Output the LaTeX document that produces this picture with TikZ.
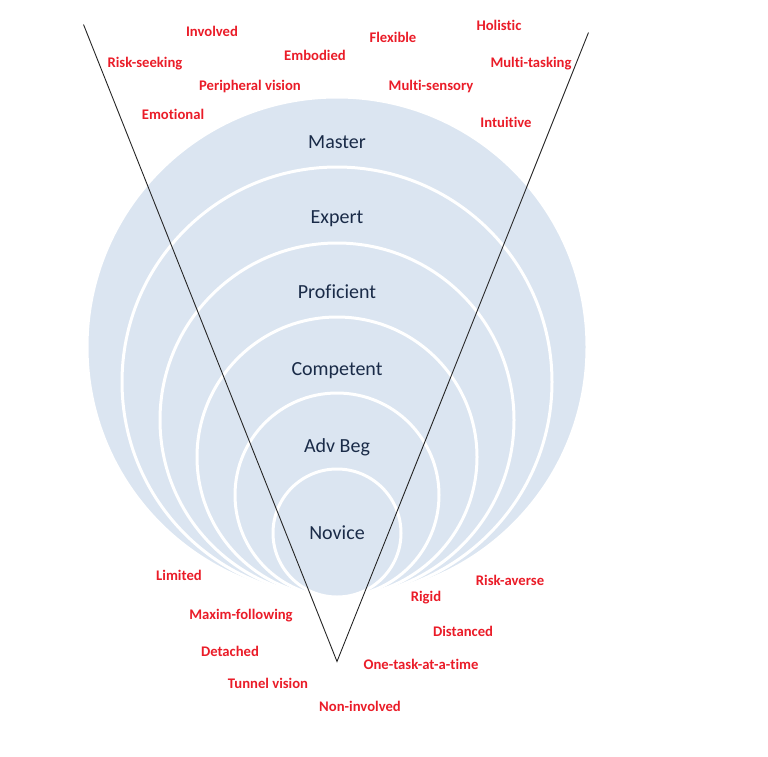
\documentclass[tikz,border=0pt]{standalone}
\usepackage{fontspec}
\setmainfont{Carlito}[Ligatures = {NoCommon, NoRare}]
\definecolor{ringblue}{RGB}{219,229,241}
\definecolor{levelnavy}{RGB}{26,43,72}
\definecolor{traitred}{RGB}{234,28,40}

\begin{document}
\begin{tikzpicture}[x = 1pt, y = -1pt,
		level/.style = {anchor = base, text = levelnavy, font = \fontsize{20}{24}\selectfont},
		trait/.style = {text = traitred, font = \fontsize{14.67}{17}\selectfont\bfseries}]
		\useasboundingbox (0,0) rectangle (768,756);
		% rings, all touching at the bottom
		\foreach \r in {250,215,177,140,102,64}
			\draw[white, line width = 3pt, fill = ringblue] (337,{597-\r}) circle (\r);
		\node[level] (master) at (337,148) {Master};
		\node[level] (expert) at (337,223) {Expert};
		\node[level] (proficient) at (337,298) {Proficient};
		\node[level] (competent) at (337,375) {Competent};
		\node[level] (advbeg) at (337,452) {Adv Beg};
		\node[level] (novice) at (337,539) {Novice};
		% the V
		\coordinate (tl) at (83.5,24.5);
		\coordinate (tr) at (588.5,32.5);
		\coordinate (tip) at (337,661.5);
		\draw[line width = 0.9pt, black!85] (tl) -- (tip) -- (tr);
		% expert traits
		\node[trait] (involved) at (212,31) {Involved};
		\node[trait] (riskseek) at (145,64) {Risk-seeking};
		\node[trait] (embodied) at (315,55) {Embodied};
		\node[trait] (periph) at (250,87) {Peripheral vision};
		\node[trait] (emotional) at (173,114) {Emotional};
		\node[trait] (flexible) at (393,37) {Flexible};
		\node[trait] (holistic) at (499,25) {Holistic};
		\node[trait] (multitask) at (531,64) {Multi-tasking};
		\node[trait] (multisens) at (431,87) {Multi-sensory};
		\node[trait] (intuitive) at (506,122) {Intuitive};
		% novice traits
		\node[trait] (limited) at (179,575) {Limited};
		\node[trait] (riskaverse) at (510,580) {Risk-averse};
		\node[trait] (rigid) at (426,598) {Rigid};
		\node[trait] (maxim) at (241,616) {Maxim-following};
		\node[trait] (distanced) at (463,631) {Distanced};
		\node[trait] (detached) at (230,651) {Detached};
		\node[trait] (onetask) at (421,664) {One-task-at-a-time};
		\node[trait] (tunnel) at (268,683) {Tunnel vision};
		\node[trait] (noninv) at (360,706) {Non-involved};
	\end{tikzpicture}
\end{document}
